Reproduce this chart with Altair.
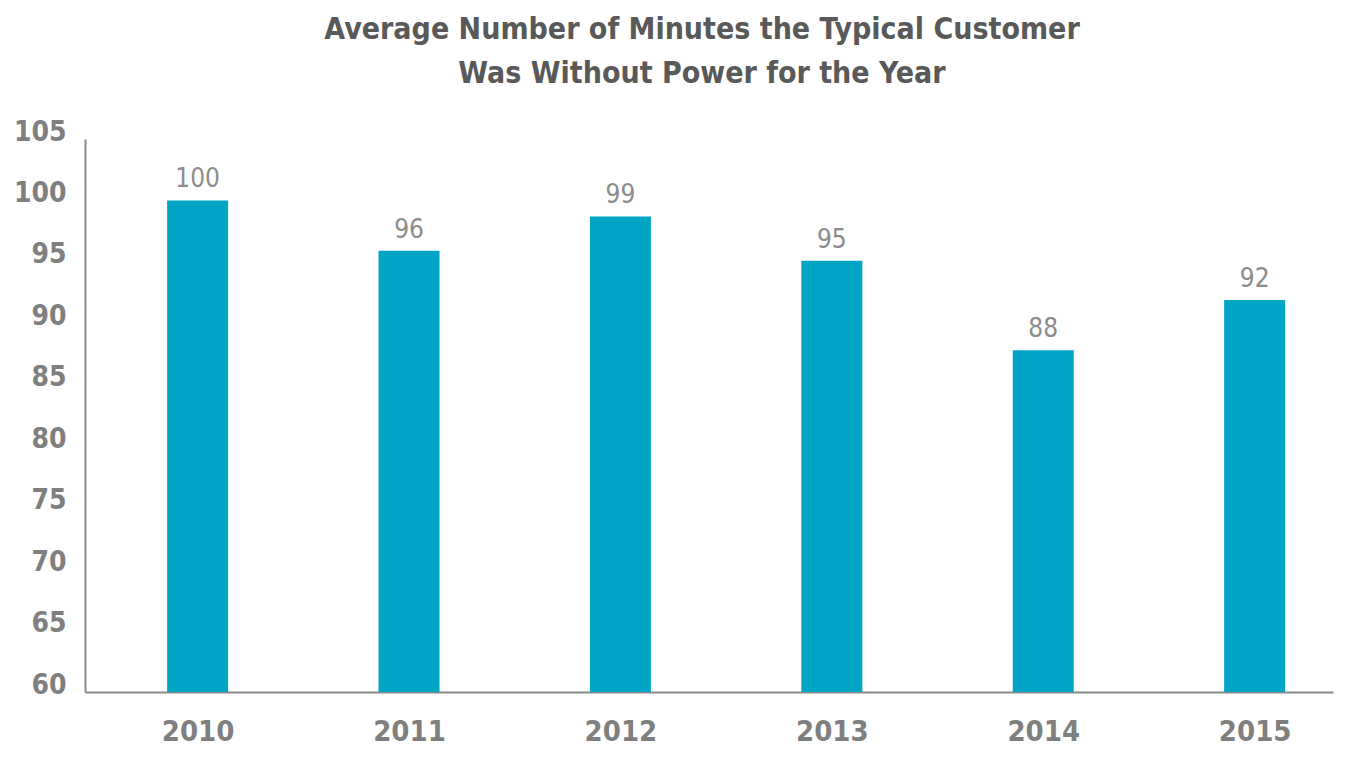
import altair as alt
import pandas as pd

years = [2010, 2011, 2012, 2013, 2014, 2015]
minutes = [100.0, 95.9, 98.7, 95.1, 87.8, 91.9]
y_ticks = [60, 65, 70, 75, 80, 85, 90, 95, 100, 105]
title_lines = ["Average Number of Minutes the Typical Customer",
               "Was Without Power for the Year"]

df = pd.DataFrame({"year": years, "minutes": minutes})

FONT = "DejaVu Sans Condensed, Liberation Sans Narrow, Arial Narrow, sans-serif"
BAR = "#00a4c5"
AXIS_GREY = "#8a8a8a"
LABEL_GREY = "#7f7f7f"

x = alt.X("year:Q",
          scale=alt.Scale(domain=[2009.491, 2015.347], nice=False, zero=False),
          axis=alt.Axis(values=years, format="d", title=None, grid=False,
                        ticks=False, labelPadding=25, labelFontSize=29,
                        labelFontWeight="bold", labelColor=LABEL_GREY,
                        labelFont=FONT, domainColor=AXIS_GREY, domainWidth=2))
y = alt.Y("minutes:Q",
          scale=alt.Scale(domain=[60, 105], nice=False, zero=False),
          axis=alt.Axis(values=y_ticks, title=None, grid=False, ticks=False,
                        labelPadding=19, labelFontSize=28, labelFontWeight="bold",
                        labelColor=LABEL_GREY, labelFont=FONT, labelOffset=-7,
                        domainColor=AXIS_GREY, domainWidth=2))

bars = alt.Chart(df).mark_bar(size=61, color=BAR).encode(
    x=x, y=y, y2=alt.datum(60)
)
text = alt.Chart(df).mark_text(baseline="bottom", dy=-8, fontSize=26,
                               font=FONT, color="#8c8c8c").encode(
    x=alt.X("year:Q"), y=alt.Y("minutes:Q"),
    text=alt.Text("minutes:Q", format=".0f")
)

chart = alt.layer(bars, text).properties(
    width=1248, height=553,
    background="white",
    title=alt.TitleParams(text=title_lines, fontSize=30, font=FONT,
                          fontWeight="bold", color="#595959", lineHeight=44,
                          anchor="middle", frame="group", dx=-7, offset=29),
    autosize=alt.AutoSizeParams(type="none"),
    padding={"left": 77, "top": 131, "right": 28, "bottom": 67},
).configure_view(stroke=None)

chart.save("out.html", embed_options={"renderer": "svg", "actions": False})
